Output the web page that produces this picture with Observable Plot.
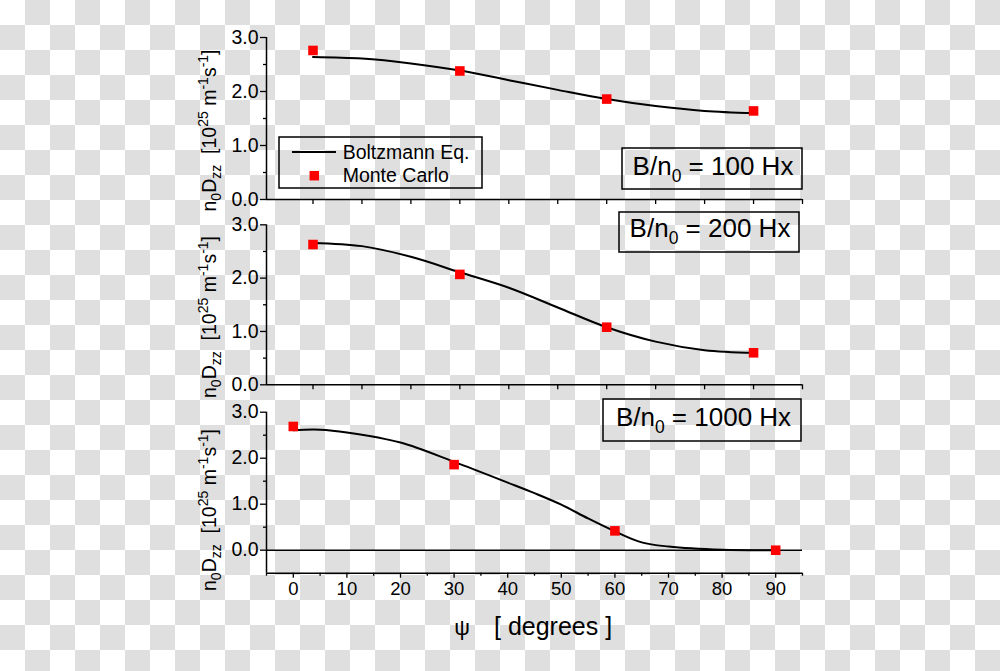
<!DOCTYPE html>
<html>
<head>
<meta charset="utf-8">
<script src="https://cdn.jsdelivr.net/npm/d3@7"></script>
<script src="https://cdn.jsdelivr.net/npm/@observablehq/plot@0.6"></script>
<style>
html, body { margin: 0; padding: 0; }
body {
  width: 1000px; height: 671px; position: relative; overflow: hidden;
  background-color: #fff;
  background-image: conic-gradient(#dfdfdf 0 25%, #fff 0 50%, #dfdfdf 0 75%, #fff 0);
  background-size: 50px 50px;
  font-family: "Liberation Sans", Arial, sans-serif;
}
.panel { position: absolute; left: 0; }
#overlay { position: absolute; left: 0; top: 0; pointer-events: none; }
</style>
</head>
<body>
<div id="p1" class="panel" style="top:0px"></div>
<div id="p2" class="panel" style="top:206px"></div>
<div id="p3" class="panel" style="top:390px"></div>
<svg id="overlay" width="1000" height="671"></svg>
<script>
// ---- data ----
const angles = [0, 30, 60, 90];                 // Monte Carlo angles (degrees)
const mc100  = [2.76, 2.38, 1.86, 1.64];
const mc200  = [2.63, 2.07, 1.08, 0.60];
const mc1000 = [2.69, 1.86, 0.42, 0.00];

const beAngles = [0, 10, 20, 30, 40, 50, 60, 70, 80, 90];   // Boltzmann curve samples
const be100  = [2.64, 2.61, 2.52, 2.39, 2.21, 2.03, 1.86, 1.73, 1.64, 1.60];
const be200  = [2.66, 2.60, 2.40, 2.11, 1.82, 1.45, 1.08, 0.81, 0.65, 0.60];
const beAngles1000 = [0, 5, 10, 20, 30, 40, 45, 50, 55, 60, 65, 70, 80, 90];
const be1000 = [2.61, 2.62, 2.56, 2.34, 1.92, 1.47, 1.24, 0.99, 0.69, 0.41, 0.17, 0.08, 0.01, 0.00];

const yTicks = [0, 1, 2, 3];
const yMinor = [0.5, 1.5, 2.5];
const xTicksTop = [0, 10, 20, 30, 40, 50, 60, 70, 80, 90, 100];
const xTicks = [0, 10, 20, 30, 40, 50, 60, 70, 80, 90];
const xMinor = [-5, 5, 15, 25, 35, 45, 55, 65, 75, 85, 95];
const fieldLabels = ["100", "200", "1000"];
const legendLabels = ["Boltzmann Eq.", "Monte Carlo"];

const FONT = "Liberation Sans, Arial, sans-serif";

function makePanel({mc, bx, be, xDomain, yDomain, height, marginTop, marginBottom, bottom, zero}) {
  const pts = angles.map((a, i) => ({a, v: mc[i]}));
  const curve = bx.map((a, i) => ({a, v: be[i]}));
  const marks = [
    Plot.ruleX([xDomain[0]], {stroke: "#000", strokeWidth: 1.5}),
    Plot.ruleY([yDomain[0]], {stroke: "#000", strokeWidth: 1.5}),
    Plot.axisY({ticks: yTicks, tickFormat: d => d.toFixed(1), tickSize: 6, tickPadding: 2,
                fontSize: 19.5, label: null, strokeWidth: 1.3}),
    Plot.axisY({ticks: yMinor, tickFormat: () => "", tickSize: 3, label: null, strokeWidth: 1.3})
  ];
  if (bottom) {
    marks.push(
      Plot.axisX({ticks: xTicks, tickSize: 5, tickPadding: 4, fontSize: 18.5, label: null, strokeWidth: 1.3}),
      Plot.axisX({ticks: xMinor, tickFormat: () => "", tickSize: 3, label: null, strokeWidth: 1.3})
    );
  } else {
    marks.push(Plot.axisX({ticks: xTicksTop, tickFormat: () => "", tickSize: 5, label: null, strokeWidth: 1.3}));
  }
  if (zero) marks.push(Plot.ruleY([0], {stroke: "#000", strokeWidth: 1.5}));
  marks.push(
    Plot.line(curve, {x: "a", y: "v", curve: "catmull-rom", stroke: "#000", strokeWidth: 2}),
    Plot.dot(pts, {x: "a", y: "v", symbol: "square", r: 5.4, fill: "#ff0000"})
  );
  return Plot.plot({
    width: 1000, height,
    marginLeft: 266, marginRight: 198, marginTop, marginBottom,
    x: {domain: xDomain},
    y: {domain: yDomain},
    style: {background: "none", overflow: "visible", fontFamily: FONT, color: "#000"},
    marks
  });
}

document.getElementById("p1").append(makePanel({
  mc: mc100, bx: beAngles, be: be100, xDomain: [-9.5, 100], yDomain: [0, 3],
  height: 206, marginTop: 37, marginBottom: 7, bottom: false, zero: false
}));
document.getElementById("p2").append(makePanel({
  mc: mc200, bx: beAngles, be: be200, xDomain: [-9.5, 100], yDomain: [0, 3],
  height: 184, marginTop: 18.3, marginBottom: 5.7, bottom: false, zero: false
}));
document.getElementById("p3").append(makePanel({
  mc: mc1000, bx: beAngles1000, be: be1000, xDomain: [-5, 95], yDomain: [-0.5, 3],
  height: 281, marginTop: 21.7, marginBottom: 98.3, bottom: true, zero: true
}));

// ---- annotations, legend and axis titles ----
const ov = d3.select("#overlay").attr("font-family", FONT);

function yLabel(cx, cy) {
  const t = ov.append("text")
    .attr("transform", `translate(${cx},${cy}) rotate(-90)`)
    .attr("text-anchor", "middle").attr("font-size", 19.5)
    .style("white-space", "pre");
  t.append("tspan").text("n");
  t.append("tspan").attr("dy", 5).attr("font-size", 14).text("0");
  t.append("tspan").attr("dy", -5).text("D");
  t.append("tspan").attr("dy", 5).attr("font-size", 14).text("zz");
  t.append("tspan").attr("dy", -5).text("  [10");
  t.append("tspan").attr("dy", -8).attr("font-size", 14).text("25");
  t.append("tspan").attr("dy", 8).text(" m");
  t.append("tspan").attr("dy", -8).attr("font-size", 14).text("-1");
  t.append("tspan").attr("dy", 8).text("s");
  t.append("tspan").attr("dy", -8).attr("font-size", 14).text("-1");
  t.append("tspan").attr("dy", 8).text("]");
}
yLabel(216, 130.5);
yLabel(216, 317);
yLabel(216, 510);

function fieldBox(x0, x1, y0, y1, cx, base, val) {
  ov.append("rect").attr("x", x0).attr("y", y0).attr("width", x1 - x0).attr("height", y1 - y0)
    .attr("fill", "none").attr("stroke", "#000").attr("stroke-width", 1.5);
  const t = ov.append("text").attr("x", cx).attr("y", base).attr("text-anchor", "middle")
    .attr("font-size", 26).style("white-space", "pre");
  t.append("tspan").text("B/n");
  t.append("tspan").attr("dy", 7).attr("font-size", 17.5).text("0");
  t.append("tspan").attr("dy", -7).text(` = ${val} Hx`);
}
fieldBox(622, 802, 148, 189, 713, 174.5, fieldLabels[0]);
fieldBox(619, 799, 212, 252, 710, 237, fieldLabels[1]);
fieldBox(603, 801, 399, 441, 703.5, 425.5, fieldLabels[2]);

// legend
ov.append("rect").attr("x", 279).attr("y", 137).attr("width", 203).attr("height", 51)
  .attr("fill", "none").attr("stroke", "#000").attr("stroke-width", 1.5);
ov.append("line").attr("x1", 292).attr("x2", 336).attr("y1", 152).attr("y2", 152)
  .attr("stroke", "#000").attr("stroke-width", 2);
ov.append("rect").attr("x", 314.3 - 4.75).attr("y", 175.7 - 4.75).attr("width", 9.5).attr("height", 9.5)
  .attr("fill", "#ff0000");
ov.append("text").attr("x", 342.7).attr("y", 158.5).attr("font-size", 19.5).text(legendLabels[0]);
ov.append("text").attr("x", 342.7).attr("y", 182).attr("font-size", 19.5).text(legendLabels[1]);

// x title
ov.append("text").attr("x", 462).attr("y", 635).attr("text-anchor", "middle")
  .attr("font-size", 22).text("ψ");
ov.append("text").attr("x", 494).attr("y", 635).attr("font-size", 25).text("[ degrees ]");
</script>
</body>
</html>
